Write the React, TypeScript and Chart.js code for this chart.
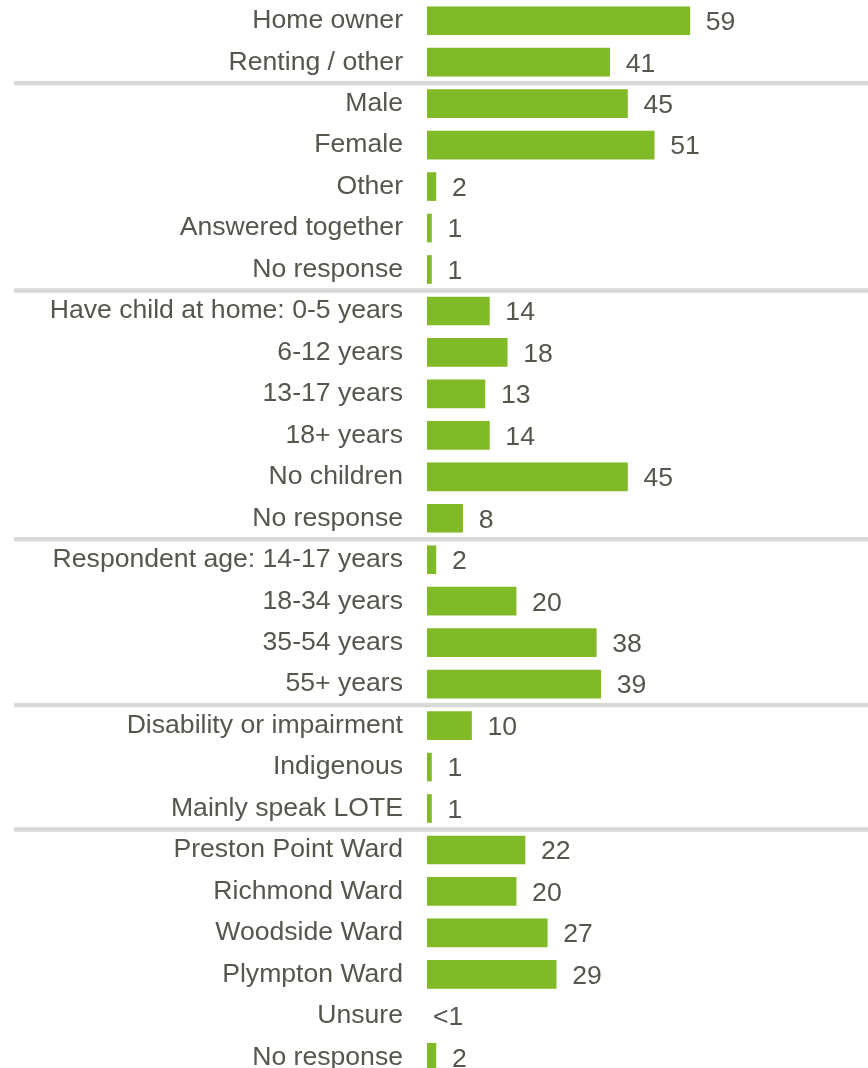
import React, { useEffect, useRef } from "react";
import { Chart, registerables } from "chart.js";

Chart.register(...registerables);

const categories: string[] = [
  "Home owner",
  "Renting / other",
  "Male",
  "Female",
  "Other",
  "Answered together",
  "No response",
  "Have child at home: 0-5 years",
  "6-12 years",
  "13-17 years",
  "18+ years",
  "No children",
  "No response",
  "Respondent age: 14-17 years",
  "18-34 years",
  "35-54 years",
  "55+ years",
  "Disability or impairment",
  "Indigenous",
  "Mainly speak LOTE",
  "Preston Point Ward",
  "Richmond Ward",
  "Woodside Ward",
  "Plympton Ward",
  "Unsure",
  "No response",
];

const values: number[] = [
  59, 41, 45, 51, 2, 1, 1, 14, 18, 13, 14, 45, 8, 2, 20, 38, 39, 10, 1, 1, 22, 20, 27, 29, 0, 2,
];

const valueLabels: string[] = [
  "59", "41", "45", "51", "2", "1", "1", "14", "18", "13", "14", "45", "8", "2", "20", "38", "39", "10", "1", "1", "22", "20", "27", "29", "<1", "2",
];

// indices after which a group separator is drawn
const groupEnds: number[] = [1, 6, 12, 16, 19];

const TEXT = "#56564f";
const BAR = "#80ba27";
const SEP = "#d9d9d9";
const FONT = "'Liberation Sans', Arial, sans-serif";
const FONT_SIZE = 26.6;

export default function App() {
  const ref = useRef<HTMLCanvasElement | null>(null);

  useEffect(() => {
    if (!ref.current) return;

    const separatorPlugin = {
      id: "separators",
      beforeDatasetsDraw(chart: any) {
        const { ctx } = chart;
        const y = chart.scales.y;
        ctx.save();
        ctx.fillStyle = SEP;
        groupEnds.forEach((i) => {
          const yy = (y.getPixelForValue(i) + y.getPixelForValue(i + 1)) / 2;
          ctx.fillRect(14, yy - 2, chart.width - 14, 4.5);
        });
        ctx.restore();
      },
    };

    const labelPlugin = {
      id: "valueLabels",
      afterDatasetsDraw(chart: any) {
        const { ctx } = chart;
        const meta = chart.getDatasetMeta(0);
        const x = chart.scales.x;
        ctx.save();
        ctx.fillStyle = TEXT;
        ctx.font = `${FONT_SIZE}px ${FONT}`;
        ctx.textAlign = "left";
        ctx.textBaseline = "middle";
        meta.data.forEach((bar: any, i: number) => {
          const gap = values[i] > 0 ? 16 : 6;
          ctx.fillText(valueLabels[i], x.getPixelForValue(values[i]) + gap, bar.y + 2);
        });
        ctx.restore();
      },
    };

    const chart = new Chart(ref.current, {
      type: "bar",
      data: {
        labels: categories,
        datasets: [
          {
            data: values,
            backgroundColor: values.map((v) => (v > 0 ? BAR : "rgba(0,0,0,0)")),
            borderWidth: 0,
            barThickness: 28,
          },
        ],
      },
      options: {
        indexAxis: "y",
        animation: false,
        responsive: false,
        maintainAspectRatio: false,
        layout: { padding: 0 },
        plugins: {
          legend: { display: false },
          tooltip: { enabled: false },
          title: { display: false },
        },
        scales: {
          x: {
            display: false,
            min: 0,
            max: 99,
          },
          y: {
            grid: { display: false, drawTicks: false },
            border: { display: false },
            ticks: {
              color: TEXT,
              padding: 24,
              font: { family: FONT, size: FONT_SIZE },
              autoSkip: false,
            },
            afterFit(scale: any) {
              scale.width = 427;
              scale.paddingTop = 0;
              scale.paddingBottom = 0;
            },
          },
        },
      },
      plugins: [separatorPlugin, labelPlugin],
    });

    return () => chart.destroy();
  }, []);

  return (
    <div style={{ position: "fixed", left: 0, top: 0, width: 868, height: 1078, background: "#fff" }}>
      <canvas ref={ref} width={868} height={1078} style={{ width: 868, height: 1078, display: "block" }} />
    </div>
  );
}
